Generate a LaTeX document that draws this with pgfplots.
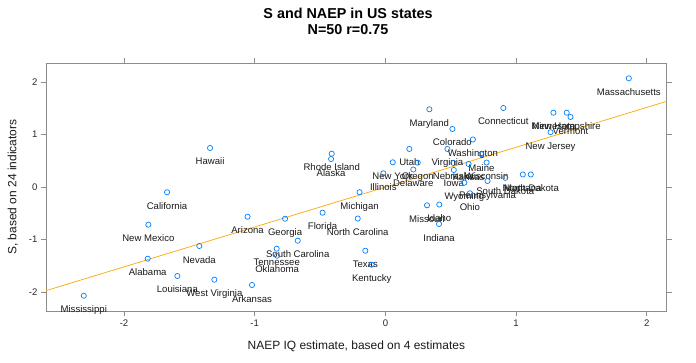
\documentclass[border=0pt]{standalone}
\usepackage{fontspec}
\setmainfont{Liberation Sans}
\usepackage{pgfplots}
\pgfplotsset{compat=1.18}
\definecolor{ptblue}{HTML}{0080FF}
\definecolor{lnorange}{HTML}{FFA500}
\definecolor{boxgray}{HTML}{8C8C8C}
\begin{document}
\begin{tikzpicture}[x=1bp,y=1bp]
\useasboundingbox (0,0) rectangle (696,362);
\begin{axis}[
  at={(46bp,51bp)}, anchor=south west,
  scale only axis, width=620.7bp, height=247.7bp,
  xmin=-2.597, xmax=2.152, ymin=-2.358, ymax=2.360,
  xtick={-2,-1,0,1,2}, ytick={-2,-1,0,1,2},
  tick align=outside, tick pos=both, xticklabel pos=lower, yticklabel pos=left,
  major tick length=5bp,
  axis line style={boxgray, line width=0.8bp},
  every tick/.style={boxgray, line width=0.8bp},
  ticklabel style={font=\fontsize{9.6}{11}\selectfont, text=black!85},
  /pgf/number format/assume math mode=true,
  xlabel={NAEP IQ estimate, based on 4 estimates},
  ylabel={S, based on 24 indicators},
  label style={font=\fontsize{12}{14}\selectfont, text=black!90},
  xlabel style={at={(axis description cs:0.5,-0.1546)}, anchor=base},
  ylabel style={at={(axis description cs:-0.04785,0.5)}, anchor=base, rotate=0},
  clip=true,
]
\addplot[lnorange, line width=0.7bp] coordinates {(-2.597,-1.970) (2.152,1.636)};
\addplot[only marks, mark=o, mark size=2.6bp, ptblue, mark options={line width=0.7bp},
  point meta=explicit symbolic, nodes near coords,
  every node near coord/.append style={anchor=base, yshift=-17bp, text=black!90,
     font=\fontsize{9.6}{11}\selectfont, inner sep=0pt}]
  table[meta=label] {
x y label
1.862 2.074 Massachusetts
0.902 1.509 Connecticut
1.285 1.419 Minnesota
1.387 1.419 {New Hampshire}
1.416 1.337 Vermont
1.263 1.048 {New Jersey}
0.336 1.484 Maryland
0.512 1.109 Colorado
0.669 0.909 Washington
0.474 0.728 Virginia
0.734 0.629 Maine
0.774 0.470 Wisconsin
0.636 0.442 Kansas
0.520 0.461 Nebraska
0.523 0.328 Iowa
0.604 0.086 Wyoming
0.781 0.118 Pennsylvania
0.917 0.179 {South Dakota}
1.051 0.242 Montana
1.112 0.242 {North Dakota}
0.646 -0.116 Ohio
0.318 -0.345 Missouri
0.412 -0.330 Idaho
0.410 -0.701 Indiana
0.183 0.728 Utah
0.056 0.474 {New York}
0.247 0.467 Oregon
0.213 0.337 Delaware
-0.016 0.265 Illinois
-0.198 -0.095 Michigan
-0.411 0.638 {Rhode Island}
-0.416 0.537 Alaska
-1.342 0.747 Hawaii
-1.671 -0.097 California
-1.814 -0.714 {New Mexico}
-1.055 -0.562 Arizona
-1.424 -1.120 Nevada
-1.819 -1.362 Alabama
-1.592 -1.691 Louisiana
-1.309 -1.762 {West Virginia}
-1.021 -1.863 Arkansas
-2.308 -2.067 Mississippi
-0.768 -0.600 Georgia
-0.481 -0.486 Florida
-0.212 -0.596 {North Carolina}
-0.671 -1.019 {South Carolina}
-0.832 -1.171 Tennessee
-0.829 -1.305 Oklahoma
-0.154 -1.210 Texas
-0.105 -1.476 Kentucky
};
\end{axis}
\node[font=\bfseries\fontsize{14.4}{17}\selectfont, anchor=base] at (348,343.8) {S and NAEP in US states};
\node[font=\bfseries\fontsize{14.4}{17}\selectfont, anchor=base] at (348,327.3) {N=50 r=0.75};
\end{tikzpicture}
\end{document}
